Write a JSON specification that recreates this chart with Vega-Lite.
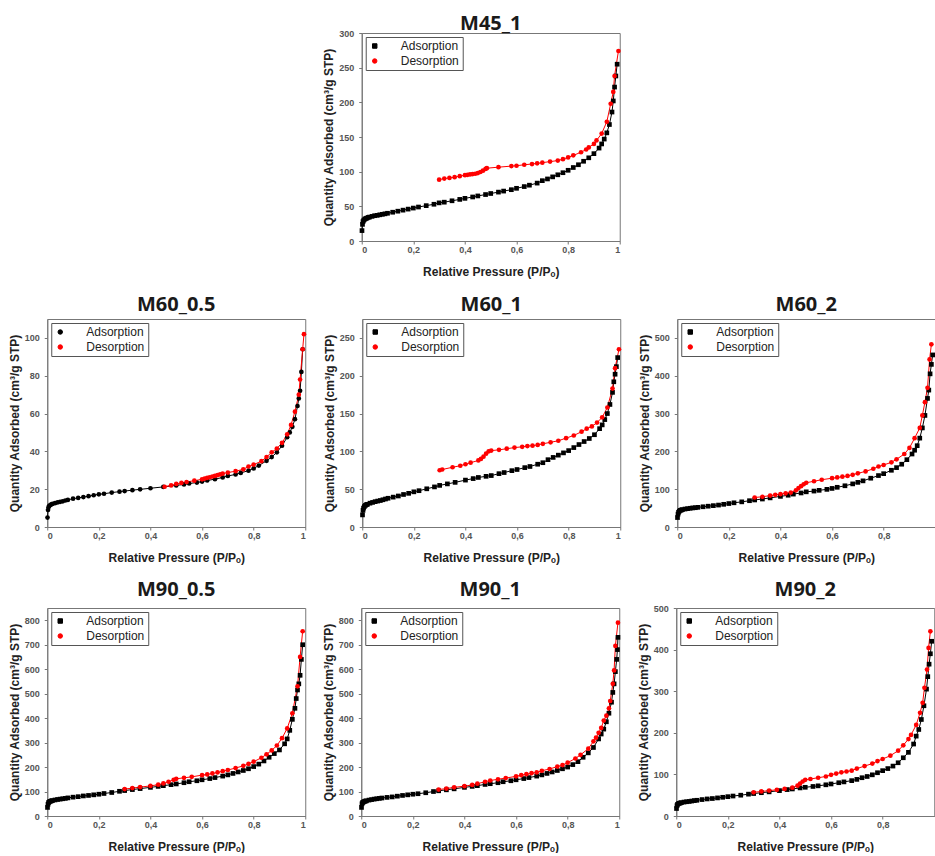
{
  "$schema": "https://vega.github.io/schema/vega-lite/v6.json",
  "background": "white",
  "padding": {"left": 7, "top": 13, "right": 0, "bottom": 0},
  "config": {
    "view": {"stroke": "#777", "strokeWidth": 1},
    "title": {"font": "Open Sans", "fontSize": 20, "fontWeight": "bold", "color": "#1a1a1a", "offset": 4},
    "axis": {"grid": false, "domainColor": "#777", "tickColor": "#777", "tickSize": 3, "labelFont": "Liberation Sans", "labelFontSize": 9, "labelFontWeight": "bold", "labelColor": "#555", "titleFont": "Liberation Sans", "titleFontSize": 12, "titleFontWeight": "bold", "titleColor": "#222"},
    "axisX": {"labelPadding": 1, "titlePadding": 12},
    "axisY": {"labelPadding": 5, "titlePadding": 3},
    "legend": {"orient": "top-left", "offset": 4, "strokeColor": "#555", "fillColor": "white", "padding": 3, "labelFont": "Liberation Sans", "labelFontSize": 12, "labelColor": "#222", "symbolSize": 20, "labelOffset": 20, "rowPadding": 3, "symbolStrokeWidth": 1}
  },
  "datasets": {
    "m45_1": [
      {"p":0.001,"q":15,"s":"Adsorption"},{"p":0.003,"q":24,"s":"Adsorption"},{"p":0.005,"q":28,"s":"Adsorption"},{"p":0.008,"q":30,"s":"Adsorption"},{"p":0.012,"q":31.5,"s":"Adsorption"},{"p":0.016,"q":32.5,"s":"Adsorption"},{"p":0.02,"q":33,"s":"Adsorption"},{"p":0.025,"q":34,"s":"Adsorption"},{"p":0.03,"q":34.5,"s":"Adsorption"},{"p":0.04,"q":35.5,"s":"Adsorption"},{"p":0.05,"q":36.5,"s":"Adsorption"},{"p":0.06,"q":37,"s":"Adsorption"},{"p":0.07,"q":37.8,"s":"Adsorption"},{"p":0.08,"q":38.5,"s":"Adsorption"},{"p":0.09,"q":39.2,"s":"Adsorption"},{"p":0.1,"q":40,"s":"Adsorption"},{"p":0.12,"q":41.5,"s":"Adsorption"},{"p":0.14,"q":43,"s":"Adsorption"},{"p":0.16,"q":44.5,"s":"Adsorption"},{"p":0.18,"q":46,"s":"Adsorption"},{"p":0.2,"q":47.5,"s":"Adsorption"},{"p":0.22,"q":49,"s":"Adsorption"},{"p":0.25,"q":51,"s":"Adsorption"},{"p":0.28,"q":53,"s":"Adsorption"},{"p":0.3,"q":55,"s":"Adsorption"},{"p":0.32,"q":56,"s":"Adsorption"},{"p":0.35,"q":58,"s":"Adsorption"},{"p":0.38,"q":60,"s":"Adsorption"},{"p":0.4,"q":61.5,"s":"Adsorption"},{"p":0.43,"q":63.5,"s":"Adsorption"},{"p":0.45,"q":65,"s":"Adsorption"},{"p":0.48,"q":67,"s":"Adsorption"},{"p":0.5,"q":68.5,"s":"Adsorption"},{"p":0.53,"q":70.5,"s":"Adsorption"},{"p":0.55,"q":72,"s":"Adsorption"},{"p":0.58,"q":74,"s":"Adsorption"},{"p":0.6,"q":76,"s":"Adsorption"},{"p":0.63,"q":78.5,"s":"Adsorption"},{"p":0.65,"q":80.5,"s":"Adsorption"},{"p":0.68,"q":83.5,"s":"Adsorption"},{"p":0.7,"q":87,"s":"Adsorption"},{"p":0.72,"q":89.5,"s":"Adsorption"},{"p":0.74,"q":92.5,"s":"Adsorption"},{"p":0.76,"q":95.5,"s":"Adsorption"},{"p":0.78,"q":98.5,"s":"Adsorption"},{"p":0.8,"q":102,"s":"Adsorption"},{"p":0.82,"q":106,"s":"Adsorption"},{"p":0.84,"q":110,"s":"Adsorption"},{"p":0.86,"q":115,"s":"Adsorption"},{"p":0.88,"q":120,"s":"Adsorption"},{"p":0.9,"q":126,"s":"Adsorption"},{"p":0.92,"q":134,"s":"Adsorption"},{"p":0.93,"q":140,"s":"Adsorption"},{"p":0.94,"q":147,"s":"Adsorption"},{"p":0.95,"q":156,"s":"Adsorption"},{"p":0.96,"q":168,"s":"Adsorption"},{"p":0.97,"q":186,"s":"Adsorption"},{"p":0.975,"q":202,"s":"Adsorption"},{"p":0.98,"q":222,"s":"Adsorption"},{"p":0.985,"q":238,"s":"Adsorption"},{"p":0.99,"q":255,"s":"Adsorption"},
      {"p":0.3,"q":88.5,"s":"Desorption"},{"p":0.32,"q":90,"s":"Desorption"},{"p":0.34,"q":91,"s":"Desorption"},{"p":0.36,"q":92,"s":"Desorption"},{"p":0.38,"q":93.5,"s":"Desorption"},{"p":0.4,"q":95,"s":"Desorption"},{"p":0.41,"q":95.5,"s":"Desorption"},{"p":0.42,"q":96,"s":"Desorption"},{"p":0.43,"q":96.5,"s":"Desorption"},{"p":0.44,"q":97,"s":"Desorption"},{"p":0.45,"q":98,"s":"Desorption"},{"p":0.46,"q":99.5,"s":"Desorption"},{"p":0.47,"q":101.5,"s":"Desorption"},{"p":0.48,"q":104,"s":"Desorption"},{"p":0.485,"q":105,"s":"Desorption"},{"p":0.53,"q":106.5,"s":"Desorption"},{"p":0.58,"q":108,"s":"Desorption"},{"p":0.6,"q":108.5,"s":"Desorption"},{"p":0.63,"q":110,"s":"Desorption"},{"p":0.66,"q":111,"s":"Desorption"},{"p":0.68,"q":112,"s":"Desorption"},{"p":0.7,"q":113,"s":"Desorption"},{"p":0.73,"q":114.5,"s":"Desorption"},{"p":0.76,"q":116,"s":"Desorption"},{"p":0.78,"q":118,"s":"Desorption"},{"p":0.8,"q":120.5,"s":"Desorption"},{"p":0.82,"q":123.5,"s":"Desorption"},{"p":0.85,"q":128,"s":"Desorption"},{"p":0.87,"q":132,"s":"Desorption"},{"p":0.88,"q":135,"s":"Desorption"},{"p":0.9,"q":140,"s":"Desorption"},{"p":0.91,"q":145,"s":"Desorption"},{"p":0.93,"q":155,"s":"Desorption"},{"p":0.95,"q":172,"s":"Desorption"},{"p":0.965,"q":198,"s":"Desorption"},{"p":0.975,"q":215,"s":"Desorption"},{"p":0.98,"q":238,"s":"Desorption"},{"p":0.995,"q":274,"s":"Desorption"}
    ],
    "m60_05": [
      {"p":0.001,"q":5,"s":"Adsorption"},{"p":0.003,"q":9,"s":"Adsorption"},{"p":0.005,"q":10.5,"s":"Adsorption"},{"p":0.008,"q":11.2,"s":"Adsorption"},{"p":0.012,"q":11.6,"s":"Adsorption"},{"p":0.016,"q":12,"s":"Adsorption"},{"p":0.02,"q":12.2,"s":"Adsorption"},{"p":0.03,"q":12.6,"s":"Adsorption"},{"p":0.04,"q":13,"s":"Adsorption"},{"p":0.05,"q":13.3,"s":"Adsorption"},{"p":0.06,"q":13.6,"s":"Adsorption"},{"p":0.07,"q":14,"s":"Adsorption"},{"p":0.08,"q":14.3,"s":"Adsorption"},{"p":0.1,"q":15,"s":"Adsorption"},{"p":0.12,"q":15.4,"s":"Adsorption"},{"p":0.14,"q":15.8,"s":"Adsorption"},{"p":0.16,"q":16.3,"s":"Adsorption"},{"p":0.18,"q":16.8,"s":"Adsorption"},{"p":0.2,"q":17.3,"s":"Adsorption"},{"p":0.22,"q":17.6,"s":"Adsorption"},{"p":0.25,"q":18.2,"s":"Adsorption"},{"p":0.28,"q":18.7,"s":"Adsorption"},{"p":0.3,"q":19,"s":"Adsorption"},{"p":0.33,"q":19.5,"s":"Adsorption"},{"p":0.36,"q":19.9,"s":"Adsorption"},{"p":0.4,"q":20.5,"s":"Adsorption"},{"p":0.45,"q":21.2,"s":"Adsorption"},{"p":0.5,"q":22,"s":"Adsorption"},{"p":0.53,"q":22.5,"s":"Adsorption"},{"p":0.55,"q":23,"s":"Adsorption"},{"p":0.58,"q":23.5,"s":"Adsorption"},{"p":0.6,"q":24,"s":"Adsorption"},{"p":0.62,"q":24.6,"s":"Adsorption"},{"p":0.65,"q":25.3,"s":"Adsorption"},{"p":0.68,"q":26.2,"s":"Adsorption"},{"p":0.7,"q":27,"s":"Adsorption"},{"p":0.73,"q":27.8,"s":"Adsorption"},{"p":0.75,"q":28.6,"s":"Adsorption"},{"p":0.78,"q":29.8,"s":"Adsorption"},{"p":0.8,"q":31,"s":"Adsorption"},{"p":0.82,"q":32.5,"s":"Adsorption"},{"p":0.85,"q":35,"s":"Adsorption"},{"p":0.87,"q":37,"s":"Adsorption"},{"p":0.89,"q":39.5,"s":"Adsorption"},{"p":0.91,"q":43,"s":"Adsorption"},{"p":0.93,"q":47.5,"s":"Adsorption"},{"p":0.94,"q":50,"s":"Adsorption"},{"p":0.95,"q":53,"s":"Adsorption"},{"p":0.96,"q":57,"s":"Adsorption"},{"p":0.97,"q":64,"s":"Adsorption"},{"p":0.975,"q":68,"s":"Adsorption"},{"p":0.98,"q":72,"s":"Adsorption"},{"p":0.985,"q":82,"s":"Adsorption"},{"p":0.99,"q":94,"s":"Adsorption"},
      {"p":0.455,"q":21.3,"s":"Desorption"},{"p":0.48,"q":22,"s":"Desorption"},{"p":0.5,"q":22.8,"s":"Desorption"},{"p":0.52,"q":23.3,"s":"Desorption"},{"p":0.54,"q":23.8,"s":"Desorption"},{"p":0.57,"q":24.5,"s":"Desorption"},{"p":0.6,"q":25.2,"s":"Desorption"},{"p":0.61,"q":25.6,"s":"Desorption"},{"p":0.62,"q":26,"s":"Desorption"},{"p":0.63,"q":26.3,"s":"Desorption"},{"p":0.64,"q":26.7,"s":"Desorption"},{"p":0.65,"q":27,"s":"Desorption"},{"p":0.66,"q":27.4,"s":"Desorption"},{"p":0.67,"q":27.8,"s":"Desorption"},{"p":0.68,"q":28.2,"s":"Desorption"},{"p":0.7,"q":28.8,"s":"Desorption"},{"p":0.73,"q":29.5,"s":"Desorption"},{"p":0.76,"q":30.5,"s":"Desorption"},{"p":0.78,"q":32,"s":"Desorption"},{"p":0.8,"q":33,"s":"Desorption"},{"p":0.83,"q":34.8,"s":"Desorption"},{"p":0.85,"q":37,"s":"Desorption"},{"p":0.87,"q":39.5,"s":"Desorption"},{"p":0.89,"q":41.5,"s":"Desorption"},{"p":0.91,"q":44.5,"s":"Desorption"},{"p":0.93,"q":49,"s":"Desorption"},{"p":0.945,"q":54,"s":"Desorption"},{"p":0.96,"q":61,"s":"Desorption"},{"p":0.975,"q":70,"s":"Desorption"},{"p":0.98,"q":78,"s":"Desorption"},{"p":0.99,"q":94,"s":"Desorption"},{"p":0.995,"q":102,"s":"Desorption"}
    ],
    "m60_1": [
      {"p":0.001,"q":16,"s":"Adsorption"},{"p":0.003,"q":22,"s":"Adsorption"},{"p":0.005,"q":25,"s":"Adsorption"},{"p":0.008,"q":27,"s":"Adsorption"},{"p":0.012,"q":28.5,"s":"Adsorption"},{"p":0.016,"q":29.5,"s":"Adsorption"},{"p":0.02,"q":30,"s":"Adsorption"},{"p":0.03,"q":31.5,"s":"Adsorption"},{"p":0.04,"q":32.5,"s":"Adsorption"},{"p":0.05,"q":33.5,"s":"Adsorption"},{"p":0.06,"q":34.3,"s":"Adsorption"},{"p":0.07,"q":35,"s":"Adsorption"},{"p":0.08,"q":36,"s":"Adsorption"},{"p":0.09,"q":37,"s":"Adsorption"},{"p":0.1,"q":38,"s":"Adsorption"},{"p":0.12,"q":39.5,"s":"Adsorption"},{"p":0.14,"q":41,"s":"Adsorption"},{"p":0.16,"q":43,"s":"Adsorption"},{"p":0.18,"q":44.5,"s":"Adsorption"},{"p":0.2,"q":46.5,"s":"Adsorption"},{"p":0.22,"q":48,"s":"Adsorption"},{"p":0.25,"q":50.5,"s":"Adsorption"},{"p":0.28,"q":53,"s":"Adsorption"},{"p":0.3,"q":55,"s":"Adsorption"},{"p":0.33,"q":57,"s":"Adsorption"},{"p":0.36,"q":59,"s":"Adsorption"},{"p":0.4,"q":62,"s":"Adsorption"},{"p":0.43,"q":64,"s":"Adsorption"},{"p":0.45,"q":65.5,"s":"Adsorption"},{"p":0.48,"q":67,"s":"Adsorption"},{"p":0.5,"q":68,"s":"Adsorption"},{"p":0.53,"q":70.5,"s":"Adsorption"},{"p":0.55,"q":72,"s":"Adsorption"},{"p":0.58,"q":74.5,"s":"Adsorption"},{"p":0.6,"q":76,"s":"Adsorption"},{"p":0.63,"q":78.5,"s":"Adsorption"},{"p":0.65,"q":80,"s":"Adsorption"},{"p":0.68,"q":83,"s":"Adsorption"},{"p":0.7,"q":85,"s":"Adsorption"},{"p":0.72,"q":89,"s":"Adsorption"},{"p":0.74,"q":92,"s":"Adsorption"},{"p":0.76,"q":95,"s":"Adsorption"},{"p":0.78,"q":98,"s":"Adsorption"},{"p":0.8,"q":101,"s":"Adsorption"},{"p":0.82,"q":105,"s":"Adsorption"},{"p":0.84,"q":109,"s":"Adsorption"},{"p":0.86,"q":113,"s":"Adsorption"},{"p":0.88,"q":117,"s":"Adsorption"},{"p":0.9,"q":122,"s":"Adsorption"},{"p":0.92,"q":130,"s":"Adsorption"},{"p":0.93,"q":135,"s":"Adsorption"},{"p":0.94,"q":142,"s":"Adsorption"},{"p":0.95,"q":150,"s":"Adsorption"},{"p":0.96,"q":162,"s":"Adsorption"},{"p":0.97,"q":178,"s":"Adsorption"},{"p":0.975,"q":192,"s":"Adsorption"},{"p":0.98,"q":202,"s":"Adsorption"},{"p":0.985,"q":212,"s":"Adsorption"},{"p":0.99,"q":224,"s":"Adsorption"},
      {"p":0.3,"q":75,"s":"Desorption"},{"p":0.31,"q":76,"s":"Desorption"},{"p":0.35,"q":79,"s":"Desorption"},{"p":0.38,"q":81,"s":"Desorption"},{"p":0.4,"q":83,"s":"Desorption"},{"p":0.42,"q":85,"s":"Desorption"},{"p":0.45,"q":88,"s":"Desorption"},{"p":0.46,"q":90,"s":"Desorption"},{"p":0.47,"q":93,"s":"Desorption"},{"p":0.48,"q":97,"s":"Desorption"},{"p":0.49,"q":100,"s":"Desorption"},{"p":0.5,"q":101,"s":"Desorption"},{"p":0.53,"q":102,"s":"Desorption"},{"p":0.56,"q":103.5,"s":"Desorption"},{"p":0.59,"q":105,"s":"Desorption"},{"p":0.62,"q":106,"s":"Desorption"},{"p":0.64,"q":107,"s":"Desorption"},{"p":0.66,"q":107.5,"s":"Desorption"},{"p":0.68,"q":108.5,"s":"Desorption"},{"p":0.7,"q":110,"s":"Desorption"},{"p":0.73,"q":112,"s":"Desorption"},{"p":0.76,"q":114,"s":"Desorption"},{"p":0.79,"q":117.5,"s":"Desorption"},{"p":0.82,"q":121,"s":"Desorption"},{"p":0.85,"q":126,"s":"Desorption"},{"p":0.87,"q":130,"s":"Desorption"},{"p":0.89,"q":133,"s":"Desorption"},{"p":0.91,"q":138,"s":"Desorption"},{"p":0.93,"q":145,"s":"Desorption"},{"p":0.95,"q":158,"s":"Desorption"},{"p":0.97,"q":183,"s":"Desorption"},{"p":0.98,"q":210,"s":"Desorption"},{"p":0.995,"q":235,"s":"Desorption"}
    ],
    "m60_2": [
      {"p":0.001,"q":25,"s":"Adsorption"},{"p":0.003,"q":34,"s":"Adsorption"},{"p":0.005,"q":39,"s":"Adsorption"},{"p":0.008,"q":42,"s":"Adsorption"},{"p":0.012,"q":44,"s":"Adsorption"},{"p":0.016,"q":45,"s":"Adsorption"},{"p":0.02,"q":46,"s":"Adsorption"},{"p":0.03,"q":47.5,"s":"Adsorption"},{"p":0.04,"q":48.5,"s":"Adsorption"},{"p":0.05,"q":49.5,"s":"Adsorption"},{"p":0.06,"q":50.5,"s":"Adsorption"},{"p":0.07,"q":51,"s":"Adsorption"},{"p":0.08,"q":52,"s":"Adsorption"},{"p":0.1,"q":53.5,"s":"Adsorption"},{"p":0.12,"q":55,"s":"Adsorption"},{"p":0.14,"q":56.5,"s":"Adsorption"},{"p":0.16,"q":58,"s":"Adsorption"},{"p":0.18,"q":60,"s":"Adsorption"},{"p":0.2,"q":62,"s":"Adsorption"},{"p":0.22,"q":64,"s":"Adsorption"},{"p":0.25,"q":66.5,"s":"Adsorption"},{"p":0.28,"q":69.5,"s":"Adsorption"},{"p":0.3,"q":71.5,"s":"Adsorption"},{"p":0.33,"q":74,"s":"Adsorption"},{"p":0.36,"q":77,"s":"Adsorption"},{"p":0.4,"q":81,"s":"Adsorption"},{"p":0.43,"q":84,"s":"Adsorption"},{"p":0.45,"q":87,"s":"Adsorption"},{"p":0.48,"q":90,"s":"Adsorption"},{"p":0.5,"q":93,"s":"Adsorption"},{"p":0.53,"q":95,"s":"Adsorption"},{"p":0.55,"q":97,"s":"Adsorption"},{"p":0.58,"q":99.5,"s":"Adsorption"},{"p":0.6,"q":102,"s":"Adsorption"},{"p":0.62,"q":105,"s":"Adsorption"},{"p":0.65,"q":109,"s":"Adsorption"},{"p":0.68,"q":114,"s":"Adsorption"},{"p":0.7,"q":118,"s":"Adsorption"},{"p":0.72,"q":122,"s":"Adsorption"},{"p":0.75,"q":129,"s":"Adsorption"},{"p":0.78,"q":136,"s":"Adsorption"},{"p":0.8,"q":141,"s":"Adsorption"},{"p":0.83,"q":150,"s":"Adsorption"},{"p":0.85,"q":157,"s":"Adsorption"},{"p":0.87,"q":166,"s":"Adsorption"},{"p":0.89,"q":178,"s":"Adsorption"},{"p":0.91,"q":193,"s":"Adsorption"},{"p":0.92,"q":203,"s":"Adsorption"},{"p":0.93,"q":215,"s":"Adsorption"},{"p":0.94,"q":235,"s":"Adsorption"},{"p":0.95,"q":262,"s":"Adsorption"},{"p":0.96,"q":295,"s":"Adsorption"},{"p":0.97,"q":340,"s":"Adsorption"},{"p":0.975,"q":362,"s":"Adsorption"},{"p":0.98,"q":405,"s":"Adsorption"},{"p":0.985,"q":430,"s":"Adsorption"},{"p":0.99,"q":455,"s":"Adsorption"},
      {"p":0.3,"q":78,"s":"Desorption"},{"p":0.33,"q":80,"s":"Desorption"},{"p":0.36,"q":83,"s":"Desorption"},{"p":0.38,"q":85,"s":"Desorption"},{"p":0.4,"q":87,"s":"Desorption"},{"p":0.42,"q":89,"s":"Desorption"},{"p":0.44,"q":91,"s":"Desorption"},{"p":0.46,"q":97,"s":"Desorption"},{"p":0.47,"q":103,"s":"Desorption"},{"p":0.48,"q":108,"s":"Desorption"},{"p":0.49,"q":113,"s":"Desorption"},{"p":0.5,"q":117,"s":"Desorption"},{"p":0.53,"q":121,"s":"Desorption"},{"p":0.56,"q":125,"s":"Desorption"},{"p":0.6,"q":129,"s":"Desorption"},{"p":0.62,"q":131,"s":"Desorption"},{"p":0.64,"q":133,"s":"Desorption"},{"p":0.66,"q":135,"s":"Desorption"},{"p":0.68,"q":138,"s":"Desorption"},{"p":0.7,"q":142,"s":"Desorption"},{"p":0.73,"q":147,"s":"Desorption"},{"p":0.76,"q":154,"s":"Desorption"},{"p":0.78,"q":160,"s":"Desorption"},{"p":0.8,"q":164,"s":"Desorption"},{"p":0.83,"q":171,"s":"Desorption"},{"p":0.85,"q":179,"s":"Desorption"},{"p":0.88,"q":193,"s":"Desorption"},{"p":0.9,"q":209,"s":"Desorption"},{"p":0.92,"q":235,"s":"Desorption"},{"p":0.94,"q":262,"s":"Desorption"},{"p":0.95,"q":295,"s":"Desorption"},{"p":0.96,"q":330,"s":"Desorption"},{"p":0.97,"q":368,"s":"Desorption"},{"p":0.978,"q":443,"s":"Desorption"},{"p":0.985,"q":483,"s":"Desorption"}
    ],
    "m90_05": [
      {"p":0.001,"q":35,"s":"Adsorption"},{"p":0.003,"q":48,"s":"Adsorption"},{"p":0.005,"q":55,"s":"Adsorption"},{"p":0.008,"q":58,"s":"Adsorption"},{"p":0.012,"q":60,"s":"Adsorption"},{"p":0.016,"q":62,"s":"Adsorption"},{"p":0.02,"q":63,"s":"Adsorption"},{"p":0.03,"q":65.5,"s":"Adsorption"},{"p":0.04,"q":67.5,"s":"Adsorption"},{"p":0.05,"q":69,"s":"Adsorption"},{"p":0.06,"q":70.5,"s":"Adsorption"},{"p":0.07,"q":72,"s":"Adsorption"},{"p":0.08,"q":74,"s":"Adsorption"},{"p":0.1,"q":77,"s":"Adsorption"},{"p":0.12,"q":79,"s":"Adsorption"},{"p":0.14,"q":82,"s":"Adsorption"},{"p":0.16,"q":84,"s":"Adsorption"},{"p":0.18,"q":86.5,"s":"Adsorption"},{"p":0.2,"q":89,"s":"Adsorption"},{"p":0.22,"q":92,"s":"Adsorption"},{"p":0.25,"q":96,"s":"Adsorption"},{"p":0.28,"q":101,"s":"Adsorption"},{"p":0.3,"q":104,"s":"Adsorption"},{"p":0.33,"q":108,"s":"Adsorption"},{"p":0.36,"q":112,"s":"Adsorption"},{"p":0.4,"q":117,"s":"Adsorption"},{"p":0.43,"q":121,"s":"Adsorption"},{"p":0.45,"q":124,"s":"Adsorption"},{"p":0.48,"q":128,"s":"Adsorption"},{"p":0.5,"q":131,"s":"Adsorption"},{"p":0.53,"q":136,"s":"Adsorption"},{"p":0.55,"q":140,"s":"Adsorption"},{"p":0.58,"q":144,"s":"Adsorption"},{"p":0.6,"q":148,"s":"Adsorption"},{"p":0.63,"q":153,"s":"Adsorption"},{"p":0.65,"q":157,"s":"Adsorption"},{"p":0.68,"q":163,"s":"Adsorption"},{"p":0.7,"q":168,"s":"Adsorption"},{"p":0.72,"q":174,"s":"Adsorption"},{"p":0.74,"q":180,"s":"Adsorption"},{"p":0.76,"q":186,"s":"Adsorption"},{"p":0.78,"q":193,"s":"Adsorption"},{"p":0.8,"q":202,"s":"Adsorption"},{"p":0.82,"q":212,"s":"Adsorption"},{"p":0.84,"q":225,"s":"Adsorption"},{"p":0.86,"q":240,"s":"Adsorption"},{"p":0.88,"q":255,"s":"Adsorption"},{"p":0.9,"q":270,"s":"Adsorption"},{"p":0.92,"q":295,"s":"Adsorption"},{"p":0.93,"q":315,"s":"Adsorption"},{"p":0.94,"q":350,"s":"Adsorption"},{"p":0.95,"q":395,"s":"Adsorption"},{"p":0.96,"q":440,"s":"Adsorption"},{"p":0.965,"q":480,"s":"Adsorption"},{"p":0.97,"q":515,"s":"Adsorption"},{"p":0.975,"q":540,"s":"Adsorption"},{"p":0.98,"q":575,"s":"Adsorption"},{"p":0.985,"q":640,"s":"Adsorption"},{"p":0.99,"q":700,"s":"Adsorption"},
      {"p":0.3,"q":110,"s":"Desorption"},{"p":0.33,"q":114,"s":"Desorption"},{"p":0.36,"q":118,"s":"Desorption"},{"p":0.4,"q":123,"s":"Desorption"},{"p":0.43,"q":128,"s":"Desorption"},{"p":0.45,"q":133,"s":"Desorption"},{"p":0.47,"q":140,"s":"Desorption"},{"p":0.49,"q":148,"s":"Desorption"},{"p":0.5,"q":152,"s":"Desorption"},{"p":0.53,"q":156,"s":"Desorption"},{"p":0.56,"q":160,"s":"Desorption"},{"p":0.6,"q":167,"s":"Desorption"},{"p":0.62,"q":170,"s":"Desorption"},{"p":0.64,"q":174,"s":"Desorption"},{"p":0.66,"q":178,"s":"Desorption"},{"p":0.68,"q":183,"s":"Desorption"},{"p":0.7,"q":188,"s":"Desorption"},{"p":0.73,"q":196,"s":"Desorption"},{"p":0.76,"q":205,"s":"Desorption"},{"p":0.78,"q":213,"s":"Desorption"},{"p":0.8,"q":222,"s":"Desorption"},{"p":0.83,"q":238,"s":"Desorption"},{"p":0.85,"q":252,"s":"Desorption"},{"p":0.87,"q":268,"s":"Desorption"},{"p":0.89,"q":288,"s":"Desorption"},{"p":0.91,"q":318,"s":"Desorption"},{"p":0.93,"q":358,"s":"Desorption"},{"p":0.95,"q":420,"s":"Desorption"},{"p":0.97,"q":530,"s":"Desorption"},{"p":0.98,"q":650,"s":"Desorption"},{"p":0.99,"q":755,"s":"Desorption"}
    ],
    "m90_1": [
      {"p":0.001,"q":35,"s":"Adsorption"},{"p":0.003,"q":50,"s":"Adsorption"},{"p":0.005,"q":55,"s":"Adsorption"},{"p":0.008,"q":57,"s":"Adsorption"},{"p":0.012,"q":59,"s":"Adsorption"},{"p":0.016,"q":61,"s":"Adsorption"},{"p":0.02,"q":62,"s":"Adsorption"},{"p":0.03,"q":65,"s":"Adsorption"},{"p":0.04,"q":67,"s":"Adsorption"},{"p":0.05,"q":69,"s":"Adsorption"},{"p":0.06,"q":70.5,"s":"Adsorption"},{"p":0.07,"q":72,"s":"Adsorption"},{"p":0.08,"q":73.5,"s":"Adsorption"},{"p":0.1,"q":76,"s":"Adsorption"},{"p":0.12,"q":78,"s":"Adsorption"},{"p":0.14,"q":81,"s":"Adsorption"},{"p":0.16,"q":84,"s":"Adsorption"},{"p":0.18,"q":86.5,"s":"Adsorption"},{"p":0.2,"q":89,"s":"Adsorption"},{"p":0.22,"q":91,"s":"Adsorption"},{"p":0.25,"q":95,"s":"Adsorption"},{"p":0.28,"q":100,"s":"Adsorption"},{"p":0.3,"q":103,"s":"Adsorption"},{"p":0.33,"q":107,"s":"Adsorption"},{"p":0.36,"q":111,"s":"Adsorption"},{"p":0.4,"q":117,"s":"Adsorption"},{"p":0.43,"q":121,"s":"Adsorption"},{"p":0.45,"q":124,"s":"Adsorption"},{"p":0.48,"q":129,"s":"Adsorption"},{"p":0.5,"q":132,"s":"Adsorption"},{"p":0.53,"q":136,"s":"Adsorption"},{"p":0.55,"q":140,"s":"Adsorption"},{"p":0.58,"q":144,"s":"Adsorption"},{"p":0.6,"q":148,"s":"Adsorption"},{"p":0.63,"q":153,"s":"Adsorption"},{"p":0.65,"q":157,"s":"Adsorption"},{"p":0.68,"q":163,"s":"Adsorption"},{"p":0.7,"q":168,"s":"Adsorption"},{"p":0.72,"q":174,"s":"Adsorption"},{"p":0.74,"q":180,"s":"Adsorption"},{"p":0.76,"q":186,"s":"Adsorption"},{"p":0.78,"q":193,"s":"Adsorption"},{"p":0.8,"q":200,"s":"Adsorption"},{"p":0.82,"q":210,"s":"Adsorption"},{"p":0.84,"q":222,"s":"Adsorption"},{"p":0.86,"q":240,"s":"Adsorption"},{"p":0.88,"q":258,"s":"Adsorption"},{"p":0.9,"q":280,"s":"Adsorption"},{"p":0.92,"q":315,"s":"Adsorption"},{"p":0.93,"q":335,"s":"Adsorption"},{"p":0.94,"q":355,"s":"Adsorption"},{"p":0.95,"q":385,"s":"Adsorption"},{"p":0.96,"q":420,"s":"Adsorption"},{"p":0.97,"q":465,"s":"Adsorption"},{"p":0.975,"q":505,"s":"Adsorption"},{"p":0.98,"q":540,"s":"Adsorption"},{"p":0.985,"q":590,"s":"Adsorption"},{"p":0.99,"q":640,"s":"Adsorption"},{"p":0.993,"q":680,"s":"Adsorption"},{"p":0.995,"q":730,"s":"Adsorption"},
      {"p":0.3,"q":108,"s":"Desorption"},{"p":0.33,"q":112,"s":"Desorption"},{"p":0.36,"q":117,"s":"Desorption"},{"p":0.4,"q":122,"s":"Desorption"},{"p":0.43,"q":127,"s":"Desorption"},{"p":0.45,"q":132,"s":"Desorption"},{"p":0.48,"q":140,"s":"Desorption"},{"p":0.5,"q":145,"s":"Desorption"},{"p":0.53,"q":150,"s":"Desorption"},{"p":0.56,"q":155,"s":"Desorption"},{"p":0.6,"q":162,"s":"Desorption"},{"p":0.62,"q":167,"s":"Desorption"},{"p":0.64,"q":171,"s":"Desorption"},{"p":0.66,"q":175,"s":"Desorption"},{"p":0.68,"q":178,"s":"Desorption"},{"p":0.7,"q":185,"s":"Desorption"},{"p":0.73,"q":192,"s":"Desorption"},{"p":0.76,"q":202,"s":"Desorption"},{"p":0.78,"q":208,"s":"Desorption"},{"p":0.8,"q":218,"s":"Desorption"},{"p":0.83,"q":235,"s":"Desorption"},{"p":0.85,"q":250,"s":"Desorption"},{"p":0.88,"q":275,"s":"Desorption"},{"p":0.9,"q":305,"s":"Desorption"},{"p":0.91,"q":320,"s":"Desorption"},{"p":0.92,"q":340,"s":"Desorption"},{"p":0.93,"q":360,"s":"Desorption"},{"p":0.94,"q":390,"s":"Desorption"},{"p":0.95,"q":410,"s":"Desorption"},{"p":0.96,"q":440,"s":"Desorption"},{"p":0.965,"q":470,"s":"Desorption"},{"p":0.975,"q":540,"s":"Desorption"},{"p":0.98,"q":595,"s":"Desorption"},{"p":0.985,"q":695,"s":"Desorption"},{"p":0.995,"q":790,"s":"Desorption"}
    ],
    "m90_2": [
      {"p":0.001,"q":18,"s":"Adsorption"},{"p":0.003,"q":25,"s":"Adsorption"},{"p":0.005,"q":28,"s":"Adsorption"},{"p":0.008,"q":29.5,"s":"Adsorption"},{"p":0.012,"q":30.5,"s":"Adsorption"},{"p":0.016,"q":31.5,"s":"Adsorption"},{"p":0.02,"q":32,"s":"Adsorption"},{"p":0.03,"q":33.5,"s":"Adsorption"},{"p":0.04,"q":34.3,"s":"Adsorption"},{"p":0.05,"q":35,"s":"Adsorption"},{"p":0.06,"q":36,"s":"Adsorption"},{"p":0.07,"q":37,"s":"Adsorption"},{"p":0.08,"q":37.8,"s":"Adsorption"},{"p":0.1,"q":39.5,"s":"Adsorption"},{"p":0.12,"q":41,"s":"Adsorption"},{"p":0.14,"q":42,"s":"Adsorption"},{"p":0.16,"q":43.5,"s":"Adsorption"},{"p":0.18,"q":45,"s":"Adsorption"},{"p":0.2,"q":46.5,"s":"Adsorption"},{"p":0.22,"q":48,"s":"Adsorption"},{"p":0.25,"q":50,"s":"Adsorption"},{"p":0.28,"q":52.5,"s":"Adsorption"},{"p":0.3,"q":54,"s":"Adsorption"},{"p":0.33,"q":56,"s":"Adsorption"},{"p":0.36,"q":58,"s":"Adsorption"},{"p":0.4,"q":61,"s":"Adsorption"},{"p":0.43,"q":63.5,"s":"Adsorption"},{"p":0.45,"q":65,"s":"Adsorption"},{"p":0.48,"q":67.5,"s":"Adsorption"},{"p":0.5,"q":69,"s":"Adsorption"},{"p":0.53,"q":71,"s":"Adsorption"},{"p":0.55,"q":72.5,"s":"Adsorption"},{"p":0.58,"q":75,"s":"Adsorption"},{"p":0.6,"q":77,"s":"Adsorption"},{"p":0.63,"q":80,"s":"Adsorption"},{"p":0.65,"q":82,"s":"Adsorption"},{"p":0.68,"q":85,"s":"Adsorption"},{"p":0.7,"q":88,"s":"Adsorption"},{"p":0.72,"q":92,"s":"Adsorption"},{"p":0.74,"q":95,"s":"Adsorption"},{"p":0.76,"q":99,"s":"Adsorption"},{"p":0.78,"q":104,"s":"Adsorption"},{"p":0.8,"q":109,"s":"Adsorption"},{"p":0.82,"q":114,"s":"Adsorption"},{"p":0.84,"q":120,"s":"Adsorption"},{"p":0.86,"q":128,"s":"Adsorption"},{"p":0.88,"q":140,"s":"Adsorption"},{"p":0.9,"q":153,"s":"Adsorption"},{"p":0.92,"q":173,"s":"Adsorption"},{"p":0.93,"q":192,"s":"Adsorption"},{"p":0.94,"q":208,"s":"Adsorption"},{"p":0.95,"q":232,"s":"Adsorption"},{"p":0.96,"q":265,"s":"Adsorption"},{"p":0.97,"q":305,"s":"Adsorption"},{"p":0.975,"q":335,"s":"Adsorption"},{"p":0.98,"q":365,"s":"Adsorption"},{"p":0.985,"q":390,"s":"Adsorption"},{"p":0.99,"q":420,"s":"Adsorption"},
      {"p":0.3,"q":57,"s":"Desorption"},{"p":0.33,"q":59,"s":"Desorption"},{"p":0.36,"q":61,"s":"Desorption"},{"p":0.39,"q":63,"s":"Desorption"},{"p":0.42,"q":65,"s":"Desorption"},{"p":0.45,"q":68,"s":"Desorption"},{"p":0.47,"q":73,"s":"Desorption"},{"p":0.48,"q":78,"s":"Desorption"},{"p":0.49,"q":83,"s":"Desorption"},{"p":0.5,"q":87,"s":"Desorption"},{"p":0.52,"q":89,"s":"Desorption"},{"p":0.55,"q":92,"s":"Desorption"},{"p":0.58,"q":95,"s":"Desorption"},{"p":0.6,"q":99,"s":"Desorption"},{"p":0.62,"q":102,"s":"Desorption"},{"p":0.64,"q":105,"s":"Desorption"},{"p":0.66,"q":107,"s":"Desorption"},{"p":0.68,"q":109,"s":"Desorption"},{"p":0.7,"q":114,"s":"Desorption"},{"p":0.73,"q":120,"s":"Desorption"},{"p":0.76,"q":126,"s":"Desorption"},{"p":0.78,"q":132,"s":"Desorption"},{"p":0.8,"q":137,"s":"Desorption"},{"p":0.83,"q":145,"s":"Desorption"},{"p":0.86,"q":157,"s":"Desorption"},{"p":0.88,"q":170,"s":"Desorption"},{"p":0.9,"q":185,"s":"Desorption"},{"p":0.91,"q":195,"s":"Desorption"},{"p":0.93,"q":219,"s":"Desorption"},{"p":0.945,"q":248,"s":"Desorption"},{"p":0.955,"q":272,"s":"Desorption"},{"p":0.962,"q":308,"s":"Desorption"},{"p":0.972,"q":352,"s":"Desorption"},{"p":0.978,"q":404,"s":"Desorption"},{"p":0.985,"q":444,"s":"Desorption"}
    ]
  },
  "vconcat": [
    {
      "title": {"text": "M45_1", "offset": -5},
      "width": 258, "height": 208,
      "data": {"name": "m45_1"},
      "encoding": {
        "x": {"field": "p", "type": "quantitative", "scale": {"domain": [0, 1], "nice": false}, "axis": {"title": "Relative Pressure (P/Pₒ)", "values": [0, 0.2, 0.4, 0.6, 0.8, 1], "labelExpr": "replace(format(datum.value, '~g'), '.', ',')"}},
        "y": {"field": "q", "type": "quantitative", "scale": {"domain": [0, 300], "nice": false}, "axis": {"title": "Quantity Adsorbed (cm³/g STP)", "values": [0, 50, 100, 150, 200, 250, 300]}},
        "color": {"field": "s", "type": "nominal", "scale": {"domain": ["Adsorption", "Desorption"], "range": ["#000000", "#ff0000"]}, "legend": {"title": null}}
      },
      "layer": [
        {"mark": {"type": "line", "strokeWidth": 1}, "encoding": {}},
        {"mark": {"type": "point", "filled": true, "size": 22, "opacity": 1},
         "encoding": {"shape": {"field": "s", "type": "nominal", "legend": null, "scale": {"domain": ["Adsorption", "Desorption"], "range": ["square", "circle"]}}}}
      ]
    },
    {
      "vconcat": [
        {
          "hconcat": [
            {
              "title": "M60_0.5",
              "width": 258, "height": 208,
              "data": {"name": "m60_05"},
              "encoding": {
                "x": {"field": "p", "type": "quantitative", "scale": {"domain": [0, 1], "nice": false}, "axis": {"title": "Relative Pressure (P/Pₒ)", "values": [0, 0.2, 0.4, 0.6, 0.8, 1], "labelExpr": "replace(format(datum.value, '~g'), '.', ',')"}},
                "y": {"field": "q", "type": "quantitative", "scale": {"domain": [0, 110], "nice": false}, "axis": {"title": "Quantity Adsorbed (cm³/g STP)", "values": [0, 20, 40, 60, 80, 100]}},
                "color": {"field": "s", "type": "nominal", "scale": {"domain": ["Adsorption", "Desorption"], "range": ["#000000", "#ff0000"]}, "legend": {"title": null}}
              },
              "layer": [
                {"mark": {"type": "line", "strokeWidth": 1}, "encoding": {}},
                {"mark": {"type": "point", "filled": true, "size": 22, "opacity": 1},
                 "encoding": {"shape": {"field": "s", "type": "nominal", "legend": null, "scale": {"domain": ["Adsorption", "Desorption"], "range": ["circle", "circle"]}}}}
              ]
            },
            {
              "title": "M60_1",
              "width": 258, "height": 208,
              "data": {"name": "m60_1"},
              "encoding": {
                "x": {"field": "p", "type": "quantitative", "scale": {"domain": [0, 1], "nice": false}, "axis": {"title": "Relative Pressure (P/Pₒ)", "values": [0, 0.2, 0.4, 0.6, 0.8, 1], "labelExpr": "replace(format(datum.value, '~g'), '.', ',')"}},
                "y": {"field": "q", "type": "quantitative", "scale": {"domain": [0, 275], "nice": false}, "axis": {"title": "Quantity Adsorbed (cm³/g STP)", "values": [0, 50, 100, 150, 200, 250]}},
                "color": {"field": "s", "type": "nominal", "scale": {"domain": ["Adsorption", "Desorption"], "range": ["#000000", "#ff0000"]}, "legend": {"title": null}}
              },
              "layer": [
                {"mark": {"type": "line", "strokeWidth": 1}, "encoding": {}},
                {"mark": {"type": "point", "filled": true, "size": 22, "opacity": 1},
                 "encoding": {"shape": {"field": "s", "type": "nominal", "legend": null, "scale": {"domain": ["Adsorption", "Desorption"], "range": ["square", "circle"]}}}}
              ]
            },
            {
              "title": "M60_2",
              "width": 258, "height": 208,
              "data": {"name": "m60_2"},
              "encoding": {
                "x": {"field": "p", "type": "quantitative", "scale": {"domain": [0, 1], "nice": false}, "axis": {"title": "Relative Pressure (P/Pₒ)", "values": [0, 0.2, 0.4, 0.6, 0.8], "labelExpr": "replace(format(datum.value, '~g'), '.', ',')"}},
                "y": {"field": "q", "type": "quantitative", "scale": {"domain": [0, 550], "nice": false}, "axis": {"title": "Quantity Adsorbed (cm³/g STP)", "values": [0, 100, 200, 300, 400, 500]}},
                "color": {"field": "s", "type": "nominal", "scale": {"domain": ["Adsorption", "Desorption"], "range": ["#000000", "#ff0000"]}, "legend": {"title": null}}
              },
              "layer": [
                {"mark": {"type": "line", "strokeWidth": 1}, "encoding": {}},
                {"mark": {"type": "point", "filled": true, "size": 22, "opacity": 1},
                 "encoding": {"shape": {"field": "s", "type": "nominal", "legend": null, "scale": {"domain": ["Adsorption", "Desorption"], "range": ["square", "circle"]}}}}
              ]
            }
          ],
          "spacing": 15,
          "resolve": {"scale": {"color": "independent", "shape": "independent"}}
        },
        {
          "hconcat": [
            {
              "title": {"text": "M90_0.5", "offset": 8},
              "width": 258, "height": 208,
              "data": {"name": "m90_05"},
              "encoding": {
                "x": {"field": "p", "type": "quantitative", "scale": {"domain": [0, 1], "nice": false}, "axis": {"title": "Relative Pressure (P/Pₒ)", "values": [0, 0.2, 0.4, 0.6, 0.8, 1], "labelExpr": "replace(format(datum.value, '~g'), '.', ',')"}},
                "y": {"field": "q", "type": "quantitative", "scale": {"domain": [0, 850], "nice": false}, "axis": {"title": "Quantity Adsorbed (cm³/g STP)", "values": [0, 100, 200, 300, 400, 500, 600, 700, 800]}},
                "color": {"field": "s", "type": "nominal", "scale": {"domain": ["Adsorption", "Desorption"], "range": ["#000000", "#ff0000"]}, "legend": {"title": null}}
              },
              "layer": [
                {"mark": {"type": "line", "strokeWidth": 1}, "encoding": {}},
                {"mark": {"type": "point", "filled": true, "size": 22, "opacity": 1},
                 "encoding": {"shape": {"field": "s", "type": "nominal", "legend": null, "scale": {"domain": ["Adsorption", "Desorption"], "range": ["square", "circle"]}}}}
              ]
            },
            {
              "title": {"text": "M90_1", "offset": 8},
              "width": 258, "height": 208,
              "data": {"name": "m90_1"},
              "encoding": {
                "x": {"field": "p", "type": "quantitative", "scale": {"domain": [0, 1], "nice": false}, "axis": {"title": "Relative Pressure (P/Pₒ)", "values": [0, 0.2, 0.4, 0.6, 0.8, 1], "labelExpr": "replace(format(datum.value, '~g'), '.', ',')"}},
                "y": {"field": "q", "type": "quantitative", "scale": {"domain": [0, 850], "nice": false}, "axis": {"title": "Quantity Adsorbed (cm³/g STP)", "values": [0, 100, 200, 300, 400, 500, 600, 700, 800]}},
                "color": {"field": "s", "type": "nominal", "scale": {"domain": ["Adsorption", "Desorption"], "range": ["#000000", "#ff0000"]}, "legend": {"title": null}}
              },
              "layer": [
                {"mark": {"type": "line", "strokeWidth": 1}, "encoding": {}},
                {"mark": {"type": "point", "filled": true, "size": 22, "opacity": 1},
                 "encoding": {"shape": {"field": "s", "type": "nominal", "legend": null, "scale": {"domain": ["Adsorption", "Desorption"], "range": ["square", "circle"]}}}}
              ]
            },
            {
              "title": {"text": "M90_2", "offset": 4},
              "width": 258, "height": 208,
              "data": {"name": "m90_2"},
              "encoding": {
                "x": {"field": "p", "type": "quantitative", "scale": {"domain": [0, 1], "nice": false}, "axis": {"title": "Relative Pressure (P/Pₒ)", "values": [0, 0.2, 0.4, 0.6, 0.8], "labelExpr": "replace(format(datum.value, '~g'), '.', ',')"}},
                "y": {"field": "q", "type": "quantitative", "scale": {"domain": [0, 500], "nice": false}, "axis": {"title": "Quantity Adsorbed (cm³/g STP)", "values": [0, 100, 200, 300, 400, 500]}},
                "color": {"field": "s", "type": "nominal", "scale": {"domain": ["Adsorption", "Desorption"], "range": ["#000000", "#ff0000"]}, "legend": {"title": null}}
              },
              "layer": [
                {"mark": {"type": "line", "strokeWidth": 1}, "encoding": {}},
                {"mark": {"type": "point", "filled": true, "size": 22, "opacity": 1},
                 "encoding": {"shape": {"field": "s", "type": "nominal", "legend": null, "scale": {"domain": ["Adsorption", "Desorption"], "range": ["square", "circle"]}}}}
              ]
            }
          ],
          "spacing": 15,
          "resolve": {"scale": {"color": "independent", "shape": "independent"}}
        }
      ],
      "spacing": 15,
      "resolve": {"scale": {"color": "independent", "shape": "independent"}}
    }
  ],
  "spacing": 16,
  "center": true,
  "resolve": {"scale": {"color": "independent", "shape": "independent"}}
}
